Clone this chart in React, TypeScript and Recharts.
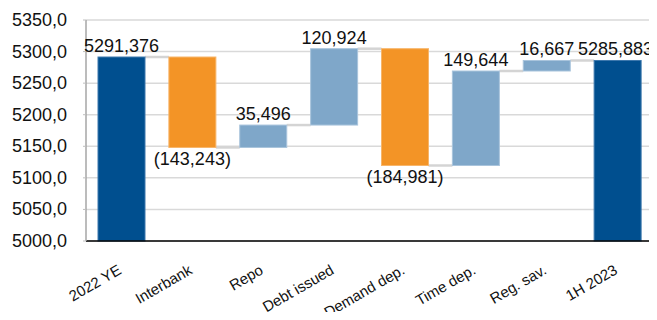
import { BarChart, Bar, XAxis, YAxis, CartesianGrid, LabelList } from 'recharts'

// waterfall steps, in thousands
const categories = ['2022 YE', 'Interbank', 'Repo', 'Debt issued', 'Demand dep.', 'Time dep.', 'Reg. sav.', '1H 2023']
const changes = [5291.376, -143.243, 35.496, 120.924, -184.981, 149.644, 16.667, 5285.883]
const kinds = ['total', 'step', 'step', 'step', 'step', 'step', 'step', 'total']
const yTicks = [5000, 5050, 5100, 5150, 5200, 5250, 5300, 5350]

const COLORS: Record<string, string> = {
  total: '#004f8f',
  up: '#7fa7c9',
  down: '#f39426',
}
const BORDERS: Record<string, string> = {
  total: '#3d78ad',
  up: '#a9c4dc',
  down: '#f7b56a',
}

const W = 657
const H = 320
const MARGIN = { top: 20, right: 4, left: 0, bottom: 0 }
const Y_AXIS_W = 86
const X_AXIS_H = 79
const AXIS_Y = H - MARGIN.bottom - X_AXIS_H
const BAND = (W - Y_AXIS_W - MARGIN.left - MARGIN.right) / categories.length
const AXIS_MIN = 5000
const FONT = '"Liberation Sans", Arial, sans-serif'
const LABEL_FONT = 18

// build [low, high] ranges for each bar
let running = 0
const data = categories.map((name, i) => {
  const v = changes[i]
  let low: number
  let high: number
  let kind: string
  if (kinds[i] === 'total') {
    running = v
    low = AXIS_MIN
    high = v
    kind = 'total'
  } else {
    const start = running
    running = start + v
    low = Math.min(start, running)
    high = Math.max(start, running)
    kind = v < 0 ? 'down' : 'up'
  }
  return { name, range: [low, high], value: v, kind, last: i === categories.length - 1 }
})

const fmt = (v: number, digits: number) => v.toFixed(digits).replace('.', ',')

function WaterfallBar(props: any) {
  const { x, y, width, height, payload } = props
  const kind = payload.kind
  // connector sits on the level the bar ends at
  const endY = kind === 'down' ? y + height : y
  return (
    <g>
      {!payload.last && (
        <line x1={x + width} x2={x + BAND} y1={endY} y2={endY} stroke="#d4d4d4" strokeWidth={2.5} />
      )}
      <rect x={x} y={y} width={width} height={height} fill={COLORS[kind]} stroke={BORDERS[kind]} strokeWidth={1} />
    </g>
  )
}

function ValueLabel(props: any) {
  const { x, y, width, height, index } = props
  const v = changes[index]
  const neg = v < 0
  const text = neg ? `(${fmt(-v, 3)})` : fmt(v, 3)
  const last = index === changes.length - 1
  // last label is pushed against the right edge, like the original
  return (
    <text
      x={last ? W - 4 : x + width / 2}
      y={neg ? y + height + 18 : y - 5}
      textAnchor={last ? 'end' : 'middle'}
      fontSize={LABEL_FONT}
      fontFamily={FONT}
      fill="#111"
    >
      {text}
    </text>
  )
}

function YTick(props: any) {
  const { y, payload } = props
  return (
    <text x={Y_AXIS_W - 19} y={y + 6} textAnchor="end" fontSize={18} fontFamily={FONT} fill="#111">
      {fmt(payload.value, 1)}
    </text>
  )
}

function XTick(props: any) {
  const { x, payload } = props
  const ax = x + 1
  const ay = AXIS_Y + 32
  return (
    <text
      x={ax}
      y={ay}
      textAnchor="end"
      fontSize={15}
      fontFamily={FONT}
      fill="#111"
      transform={`rotate(-30, ${ax}, ${ay})`}
    >
      {payload.value}
    </text>
  )
}

export default function App() {
  return (
    <div style={{ margin: -8, width: W, height: H, background: '#fff', fontFamily: FONT }}>
      <BarChart width={W} height={H} data={data} margin={MARGIN} barSize={47}>
        <CartesianGrid vertical={false} stroke="#d9d9d9" strokeWidth={1.5} />
        <XAxis
          dataKey="name"
          interval={0}
          height={X_AXIS_H}
          tickLine={false}
          axisLine={{ stroke: '#000', strokeWidth: 1.5 }}
          tick={<XTick />}
        />
        <YAxis
          width={Y_AXIS_W}
          domain={[5000, 5350]}
          ticks={yTicks}
          tick={<YTick />}
          tickSize={3}
          tickLine={{ stroke: '#bfbfbf' }}
          axisLine={{ stroke: '#a6a6a6', strokeWidth: 1.5 }}
        />
        <Bar dataKey="range" shape={<WaterfallBar />} isAnimationActive={false}>
          <LabelList dataKey="value" content={<ValueLabel />} />
        </Bar>
      </BarChart>
    </div>
  )
}
